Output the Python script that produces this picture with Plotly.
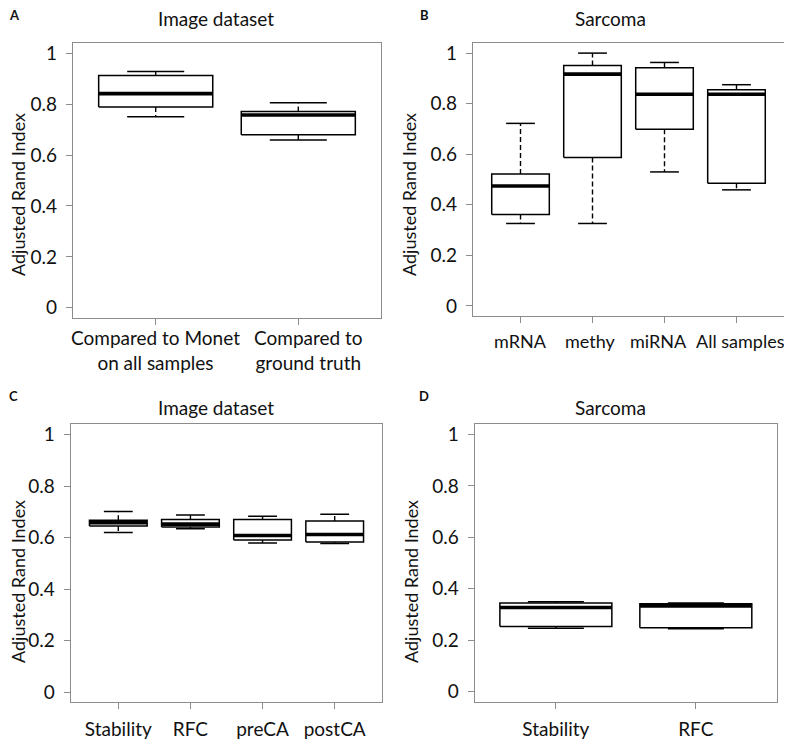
import plotly.graph_objects as go

# ---------------- data ----------------
A_cats = ["Compared to Monet<br>on all samples", "Compared to<br>ground truth"]
A_lower = [0.750, 0.659]
A_q1 = [0.789, 0.680]
A_med = [0.841, 0.757]
A_q3 = [0.912, 0.771]
A_upper = [0.928, 0.805]

B_cats = ["mRNA", "methy", "miRNA", "All samples"]
B_lower = [0.326, 0.326, 0.530, 0.459]
B_q1 = [0.362, 0.587, 0.699, 0.485]
B_med = [0.474, 0.917, 0.837, 0.837]
B_q3 = [0.522, 0.951, 0.942, 0.855]
B_upper = [0.722, 1.000, 0.963, 0.875]

C_cats = ["Stability", "RFC", "preCA", "postCA"]
C_lower = [0.620, 0.634, 0.579, 0.577]
C_q1 = [0.645, 0.641, 0.591, 0.583]
C_med = [0.658, 0.652, 0.608, 0.612]
C_q3 = [0.667, 0.670, 0.670, 0.664]
C_upper = [0.701, 0.688, 0.683, 0.691]

D_cats = ["Stability", "RFC"]
D_lower = [0.246, 0.244]
D_q1 = [0.253, 0.248]
D_med = [0.327, 0.333]
D_q3 = [0.344, 0.341]
D_upper = [0.349, 0.344]

y_ticks = [0, 0.2, 0.4, 0.6, 0.8, 1]
y_ticklabels = ["0", "0.2", "0.4", "0.6", "0.8", "1"]

# the page body margin offsets the figure by 8px in the window
OFF = 8
W, H = 792 - OFF, 740 - OFF


def px(x):
    return (x - OFF) / W


def py(y):
    return 1 - (y - OFF) / H


panels = [
    dict(letter="A", title="Image dataset", cats=A_cats, lo=A_lower, q1=A_q1, med=A_med, q3=A_q3, hi=A_upper,
         box=(73, 381, 43, 318), title_xy=(216, 19), letter_xy=(14, 15), ytitle_xy=(18, 195),
         label_annot=True, label_y=350, label_shift=[0, 10], label_size=19),
    dict(letter="B", title="Sarcoma", cats=B_cats, lo=B_lower, q1=B_q1, med=B_med, q3=B_q3, hi=B_upper,
         box=(473, 784, 43, 316), title_xy=(610, 19), letter_xy=(424, 15), ytitle_xy=(409, 195),
         label_annot=True, label_y=341, label_shift=[0, -2, -6, 4], label_size=18),
    dict(letter="C", title="Image dataset", cats=C_cats, lo=C_lower, q1=C_q1, med=C_med, q3=C_q3, hi=C_upper,
         box=(70.7, 382.3, 424.3, 702.3), title_xy=(216, 407), letter_xy=(13, 396), ytitle_xy=(18, 582),
         label_annot=False),
    dict(letter="D", title="Sarcoma", cats=D_cats, lo=D_lower, q1=D_q1, med=D_med, q3=D_q3, hi=D_upper,
         box=(474.7, 777, 424.3, 701.7), title_xy=(610, 407), letter_xy=(424, 396), ytitle_xy=(411, 582),
         label_annot=False),
]

FONT = "Lato"
TXT = "#111111"
FRAME = "#8c8c8c"
BOXW = 0.4    # half box width (R boxwex 0.8)
CAPW = 0.2    # half staple width

fig = go.Figure()
annotations = []
layout = {}

for k, p in enumerate(panels):
    sfx = "" if k == 0 else str(k + 1)
    xa, ya = "x" + sfx, "y" + sfx
    n = len(p["cats"])
    pos = list(range(1, n + 1))

    wx, wy, cx, cy, bx, by, mx, my = [], [], [], [], [], [], [], []
    for i, c in enumerate(pos):
        wx += [c, c, None, c, c, None]
        wy += [p["q3"][i], p["hi"][i], None, p["q1"][i], p["lo"][i], None]
        cx += [c - CAPW, c + CAPW, None, c - CAPW, c + CAPW, None]
        cy += [p["hi"][i], p["hi"][i], None, p["lo"][i], p["lo"][i], None]
        bx += [c - BOXW, c + BOXW, c + BOXW, c - BOXW, c - BOXW, None]
        by += [p["q1"][i], p["q1"][i], p["q3"][i], p["q3"][i], p["q1"][i], None]
        mx += [c - BOXW, c + BOXW, None]
        my += [p["med"][i], p["med"][i], None]

    common = dict(mode="lines", xaxis=xa, yaxis=ya, showlegend=False, hoverinfo="skip")
    fig.add_trace(go.Scatter(x=wx, y=wy, line=dict(color="black", width=1.4, dash="5px,3px"), **common))
    fig.add_trace(go.Scatter(x=cx, y=cy, line=dict(color="black", width=1.5), **common))
    fig.add_trace(go.Scatter(x=bx, y=by, line=dict(color="black", width=1.5), fill="toself",
                             fillcolor="white", **common))
    fig.add_trace(go.Scatter(x=mx, y=my, line=dict(color="black", width=3.6), **common))

    x0, x1, y0, y1 = p["box"]
    pad = 0.04 * n
    layout["xaxis" + sfx] = dict(
        domain=[px(x0), px(x1)], anchor=ya, range=[0.5 - pad, n + 0.5 + pad], automargin=False, tickangle=0,
        tickvals=pos, ticktext=p["cats"], showticklabels=not p["label_annot"],
        showline=True, mirror=True, linecolor=FRAME, linewidth=1.3,
        ticks="outside", tickcolor=FRAME, tickwidth=1.2, ticklen=6, showgrid=False, zeroline=False,
        tickfont=dict(family=FONT, size=19, color=TXT), ticklabelstandoff=4, fixedrange=True,
    )
    layout["yaxis" + sfx] = dict(
        domain=[py(y1), py(y0)], anchor=xa, range=[-0.04, 1.04], automargin=False,
        tickvals=y_ticks, ticktext=y_ticklabels, showline=True, mirror=True, linecolor=FRAME, linewidth=1.3,
        ticks="outside", tickcolor=FRAME, tickwidth=1.2, ticklen=6, showgrid=False, zeroline=False,
        tickfont=dict(family=FONT, size=19, color=TXT), ticklabelstandoff=5, fixedrange=True,
    )

    if p["label_annot"]:
        for i, c in enumerate(pos):
            annotations.append(dict(text=p["cats"][i], x=c, xref=xa, y=py(p["label_y"]), yref="paper",
                                    xanchor="center", yanchor="middle", showarrow=False,
                                    xshift=p["label_shift"][i],
                                    font=dict(family=FONT, size=p["label_size"], color=TXT)))

    tx, ty = p["title_xy"]
    annotations.append(dict(text=p["title"], x=px(tx), y=py(ty), xref="paper", yref="paper",
                            xanchor="center", yanchor="middle", showarrow=False,
                            font=dict(family=FONT, size=19, color=TXT)))
    lx, ly = p["letter_xy"]
    annotations.append(dict(text="<b>" + p["letter"] + "</b>", x=px(lx), y=py(ly), xref="paper",
                            yref="paper", xanchor="center", yanchor="middle", showarrow=False,
                            font=dict(family=FONT, size=13, color=TXT)))
    ax_, ay_ = p["ytitle_xy"]
    annotations.append(dict(text="Adjusted Rand Index", x=px(ax_), y=py(ay_), xref="paper",
                            yref="paper", xanchor="center", yanchor="middle", showarrow=False,
                            textangle=-90, font=dict(family=FONT, size=18, color=TXT)))

fig.update_layout(
    width=W, height=H, margin=dict(l=0, r=0, t=0, b=0),
    paper_bgcolor="white", plot_bgcolor="white",
    annotations=annotations, **layout,
)

fig.write_html("out.html")
